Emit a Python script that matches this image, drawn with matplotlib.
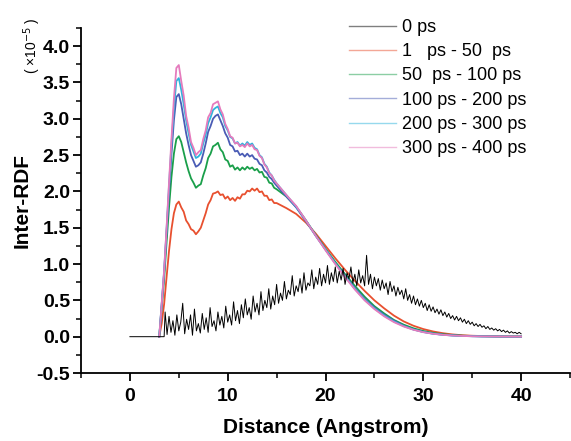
import numpy as np
import matplotlib
matplotlib.use('Agg')
import matplotlib.pyplot as plt
from matplotlib.ticker import MultipleLocator

plt.rcParams['font.family'] = ['Liberation Sans', 'DejaVu Sans']
plt.rcParams['axes.unicode_minus'] = False

# DATA

# 0 ps : flat zero up to 3.5 A, then spiky from 3.6 A on, step 0.2
x_black = np.concatenate(([0.0, 3.5], np.linspace(3.6, 40.0, 183)))
y_black = [0.00, 0.00,
    0.34, 0.03, 0.28, 0.06, 0.22, 0.02, 0.30, 0.08, 0.20, 0.46,
    0.04, 0.24, 0.10, 0.30, 0.02, 0.38, 0.08, 0.18, 0.05, 0.32,
    0.10, 0.26, 0.06, 0.40, 0.14, 0.22, 0.08, 0.34, 0.16, 0.28,
    0.12, 0.42, 0.20, 0.30, 0.16, 0.48, 0.22, 0.36, 0.18, 0.44,
    0.26, 0.52, 0.30, 0.40, 0.24, 0.56, 0.34, 0.46, 0.30, 0.62,
    0.36, 0.50, 0.40, 0.66, 0.38, 0.56, 0.44, 0.72, 0.46, 0.60,
    0.50, 0.76, 0.52, 0.64, 0.58, 0.84, 0.56, 0.70, 0.62, 0.80,
    0.60, 0.88, 0.64, 0.74, 0.70, 0.92, 0.66, 0.82, 0.72, 0.94,
    0.70, 0.86, 0.74, 0.98, 0.72, 0.88, 0.76, 0.96, 0.74, 0.90,
    0.78, 0.94, 0.72, 0.88, 0.80, 0.96, 0.74, 0.86, 0.70, 0.92,
    0.74, 0.84, 0.70, 1.12, 0.72, 0.86, 0.66, 0.82, 0.70, 0.80,
    0.64, 0.78, 0.66, 0.74, 0.58, 0.76, 0.62, 0.70, 0.56, 0.68,
    0.58, 0.64, 0.52, 0.66, 0.50, 0.58, 0.46, 0.56, 0.44, 0.52,
    0.42, 0.50, 0.40, 0.46, 0.36, 0.44, 0.35, 0.41, 0.33, 0.38,
    0.31, 0.37, 0.29, 0.34, 0.27, 0.32, 0.25, 0.29, 0.23, 0.28,
    0.22, 0.26, 0.20, 0.24, 0.18, 0.22, 0.17, 0.20, 0.15, 0.18,
    0.14, 0.17, 0.13, 0.15, 0.11, 0.14, 0.10, 0.12, 0.09, 0.11,
    0.08, 0.10, 0.07, 0.09, 0.06, 0.08, 0.05, 0.07, 0.05, 0.06,
    0.04, 0.06, 0.04]

# averaged curves: 3..15 A every 0.25, then 16..40 every 1
x_avg = np.concatenate((np.linspace(3.0, 15.0, 49), np.arange(16, 41)))

y_1_50 = [0.00, 0.18, 0.45, 0.82, 1.18, 1.48, 1.70, 1.82, 1.86, 1.78, 1.72, 1.60,
          1.55, 1.48, 1.46, 1.41, 1.45, 1.50, 1.60, 1.70, 1.82, 1.88, 1.97, 1.98,
          2.00, 1.95, 1.96, 1.90, 1.93, 1.88, 1.91, 1.87, 1.92, 1.90, 1.96, 1.96,
          2.01, 2.00, 2.04, 2.01, 2.04, 1.99, 2.00, 1.94, 1.94, 1.88, 1.89, 1.84,
          1.84,
          1.77, 1.69, 1.57, 1.42, 1.25, 1.08, 0.92, 0.77, 0.63, 0.50, 0.39, 0.29,
          0.21, 0.15, 0.105, 0.072, 0.048, 0.031, 0.020, 0.013, 0.009, 0.006,
          0.004, 0.003, 0.002]

y_50_100 = [0.00, 0.40, 0.80, 1.30, 1.78, 2.20, 2.52, 2.72, 2.76, 2.68, 2.54, 2.40,
            2.28, 2.18, 2.12, 2.05, 2.08, 2.10, 2.22, 2.32, 2.46, 2.52, 2.62, 2.64,
            2.67, 2.58, 2.54, 2.44, 2.42, 2.34, 2.36, 2.30, 2.33, 2.29, 2.33, 2.30,
            2.34, 2.31, 2.33, 2.29, 2.31, 2.26, 2.27, 2.20, 2.19, 2.12, 2.11, 2.05,
            2.03,
            1.93, 1.79, 1.60, 1.40, 1.21, 1.03, 0.86, 0.70, 0.55, 0.42, 0.32, 0.23,
            0.165, 0.115, 0.078, 0.052, 0.034, 0.022, 0.014, 0.009, 0.006, 0.004,
            0.002, 0.001, 0.001]

y_100_200 = [0.00, 0.44, 0.88, 1.44, 2.00, 2.52, 2.98, 3.30, 3.34, 3.20, 3.00, 2.80,
             2.64, 2.50, 2.42, 2.34, 2.36, 2.40, 2.52, 2.66, 2.82, 2.90, 3.00, 3.04,
             3.06, 2.98, 2.90, 2.80, 2.74, 2.64, 2.62, 2.55, 2.56, 2.50, 2.52, 2.48,
             2.52, 2.48, 2.50, 2.45, 2.44, 2.38, 2.36, 2.29, 2.26, 2.20, 2.17, 2.12,
             2.08,
             1.93, 1.78, 1.59, 1.39, 1.20, 1.01, 0.84, 0.67, 0.52, 0.40, 0.30, 0.22,
             0.15, 0.10, 0.066, 0.043, 0.027, 0.017, 0.011, 0.007, 0.004, 0.003,
             0.002, 0.001, 0.001]

y_200_300 = [0.00, 0.45, 0.90, 1.48, 2.08, 2.65, 3.15, 3.52, 3.56, 3.40, 3.20, 2.98,
             2.80, 2.64, 2.55, 2.46, 2.48, 2.52, 2.66, 2.78, 2.94, 3.02, 3.12, 3.15,
             3.17, 3.08, 3.02, 2.90, 2.84, 2.75, 2.73, 2.66, 2.68, 2.63, 2.66, 2.63,
             2.68, 2.64, 2.66, 2.60, 2.58, 2.50, 2.47, 2.38, 2.34, 2.26, 2.22, 2.16,
             2.11,
             1.95, 1.79, 1.60, 1.39, 1.20, 1.01, 0.83, 0.66, 0.51, 0.39, 0.29, 0.21,
             0.145, 0.098, 0.064, 0.041, 0.026, 0.016, 0.010, 0.006, 0.004, 0.003,
             0.002, 0.001, 0.001]

y_300_400 = [0.00, 0.45, 0.92, 1.50, 2.12, 2.72, 3.28, 3.70, 3.74, 3.52, 3.32, 3.04,
             2.88, 2.68, 2.60, 2.50, 2.54, 2.57, 2.72, 2.84, 3.02, 3.08, 3.20, 3.22,
             3.24, 3.13, 3.06, 2.93, 2.86, 2.76, 2.74, 2.66, 2.67, 2.62, 2.64, 2.61,
             2.66, 2.62, 2.64, 2.58, 2.57, 2.49, 2.46, 2.37, 2.33, 2.25, 2.22, 2.15,
             2.11,
             1.95, 1.80, 1.60, 1.39, 1.19, 1.00, 0.82, 0.65, 0.50, 0.38, 0.28, 0.20,
             0.14, 0.095, 0.062, 0.040, 0.025, 0.016, 0.010, 0.006, 0.004, 0.003,
             0.002, 0.001, 0.001]

labels = ['0 ps', '1   ps - 50  ps', '50  ps - 100 ps',
          '100 ps - 200 ps', '200 ps - 300 ps', '300 ps - 400 ps']
colors = ['#000000', '#e8502f', '#1a9f4a', '#4a5cb5', '#2fb4dc', '#e57bbd']

# PLOT

fig = plt.figure(figsize=(5.71, 4.41), dpi=100)
ax = fig.add_axes([81 / 571, 68 / 441, 489 / 571, 345 / 441])

series = [y_1_50, y_50_100, y_100_200, y_200_300, y_300_400]
handles = []
for ys, c, lab in zip(series, colors[1:], labels[1:]):
    h, = ax.plot(x_avg, ys, color=c, lw=1.3, label=lab)
    handles.append(h)
hb, = ax.plot(x_black, y_black, color='black', lw=0.7, label=labels[0])
handles = [hb] + handles

ax.set_xlim(-5, 45)
ax.set_ylim(-0.5, 4.25)
ax.xaxis.set_major_locator(MultipleLocator(10))
ax.xaxis.set_minor_locator(MultipleLocator(5))
ax.yaxis.set_major_locator(MultipleLocator(0.5))
ax.yaxis.set_minor_locator(MultipleLocator(0.25))
ax.yaxis.set_major_formatter(plt.FormatStrFormatter('%.1f'))

for s in ['top', 'right']:
    ax.spines[s].set_visible(False)
for s in ['left', 'bottom']:
    ax.spines[s].set_linewidth(1.3)

ax.tick_params(which='major', direction='out', length=6, width=1.3)
ax.tick_params(which='minor', direction='out', length=3.5, width=1.1)
ax.tick_params(axis='y', which='major', pad=2)
ax.tick_params(axis='x', which='major', pad=5)
for t in ax.get_xticklabels() + ax.get_yticklabels():
    t.set_fontsize(14)
    t.set_fontweight('bold')

ax.set_xlabel('Distance (Angstrom)', fontsize=15, fontweight='bold')
ax.set_ylabel('Inter-RDF', fontsize=15, fontweight='bold')
ax.xaxis.set_label_coords(0.5, -0.13)
ax.yaxis.set_label_coords(-0.1, 0.5)

# scale factor written beside the top of the y axis
fig.text(32 / 571, 1 - 46 / 441, '( \u00d710$^{-5}$ )', rotation=90,
         fontsize=10, ha='center', va='center')

leg = fig.legend(handles, labels, loc='upper left',
                 bbox_to_anchor=(340 / 571, 1 - 10 / 441),
                 frameon=False, fontsize=13, handlelength=2.6,
                 handletextpad=0.35, labelspacing=0.4, borderpad=0)
for lh in leg.get_lines():
    lh.set_linewidth(1.0)
    lh.set_alpha(0.5)

fig.savefig('out.png', dpi=100)
